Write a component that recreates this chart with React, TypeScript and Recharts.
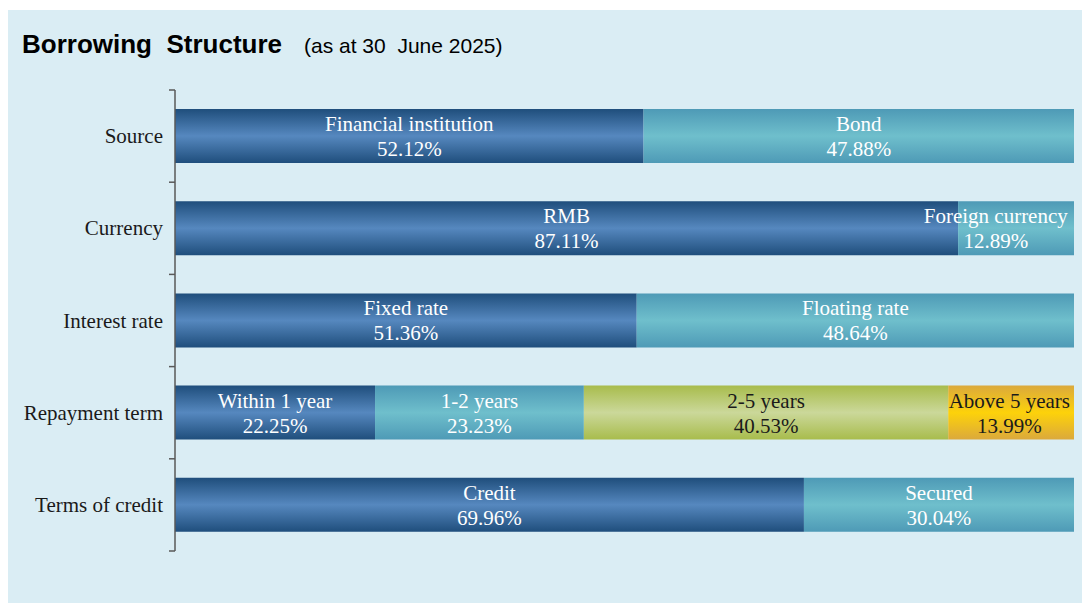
import React from "react";
import { Bar, BarChart, LabelList, XAxis, YAxis } from "recharts";

const categories = ["Source", "Currency", "Interest rate", "Repayment term", "Terms of credit"];
const segmentNames = [
  ["Financial institution", "Bond"],
  ["RMB", "Foreign currency"],
  ["Fixed rate", "Floating rate"],
  ["Within 1 year", "1-2 years", "2-5 years", "Above 5 years"],
  ["Credit", "Secured"],
];
const segmentValues = [
  [52.12, 47.88],
  [87.11, 12.89],
  [51.36, 48.64],
  [22.25, 23.23, 40.53, 13.99],
  [69.96, 30.04],
];

const SEG_KEYS = ["s1", "s2", "s3", "s4"];
// gradient stops: edge, middle
const SEG_FILLS = [
  { edge: "#1f4e7c", mid: "#5688bf" },
  { edge: "#4e9ab6", mid: "#6fbfcc" },
  { edge: "#a8bc4c", mid: "#cbd89a" },
  { edge: "#dba93c", mid: "#fdd20a" },
];
const LABEL_COLORS = ["#ffffff", "#ffffff", "#1a1a1a", "#1a1a1a"];

const W = 1082;
const H = 593;
const MARGIN = { top: 80, right: 16, bottom: 52, left: 0 };
const Y_W = 167;
const AXIS_X = MARGIN.left + Y_W;
const PLOT_RIGHT = W - MARGIN.right;
const BAND = (H - MARGIN.top - MARGIN.bottom) / categories.length;
const SERIF = '"Liberation Serif", "Times New Roman", serif';
const SANS = '"Liberation Sans", Arial, sans-serif';
const FS = 21;

const data = categories.map((c, i) => {
  const row: Record<string, string | number> = { name: c };
  segmentValues[i].forEach((v, j) => {
    row[SEG_KEYS[j]] = v;
  });
  return row;
});

function CategoryTick(props: any) {
  const { y, payload, index } = props;
  const top = y - BAND / 2;
  return (
    <g>
      <line x1={AXIS_X - 6} x2={AXIS_X} y1={top} y2={top} stroke="#595959" strokeWidth={1.5} />
      {index === categories.length - 1 && (
        <line x1={AXIS_X - 6} x2={AXIS_X} y1={y + BAND / 2} y2={y + BAND / 2} stroke="#595959" strokeWidth={1.5} />
      )}
      <text x={AXIS_X - 12} y={y} dy={7} textAnchor="end" fontFamily={SERIF} fontSize={FS} fill="#1a1a1a">
        {payload.value}
      </text>
    </g>
  );
}

function makeLabel(seg: number) {
  return (props: any) => {
    const { x, y, width, height, value } = props;
    // row from the bar's position in the band scale
    const row = Math.floor((y + height / 2 - MARGIN.top) / BAND);
    if (value == null || !segmentNames[row] || segmentNames[row][seg] == null) return null;
    const name = segmentNames[row][seg];
    const pct = `${Number(value).toFixed(2)}%`;
    // rough text width, keeps labels inside the plot on the right
    const textW = Math.max(name.length, pct.length) * FS * 0.43;
    let cx = x + width / 2;
    if (cx + textW / 2 > PLOT_RIGHT - 6) cx = PLOT_RIGHT - 6 - textW / 2;
    const cy = y + height / 2;
    return (
      <text textAnchor="middle" fontFamily={SERIF} fontSize={FS} fill={LABEL_COLORS[seg]}>
        <tspan x={cx} y={cy - 5}>{name}</tspan>
        <tspan x={cx} y={cy + 20}>{pct}</tspan>
      </text>
    );
  };
}

export default function App() {
  return (
    <div style={{ position: "relative", width: W, height: H, marginTop: 2, background: "#daedf4" }}>
      <svg width={W} height={70} style={{ position: "absolute", left: 0, top: 0 }}>
        <text x={14} y={43} fontFamily={SANS} fill="#000" style={{ whiteSpace: "pre" }}>
          <tspan fontSize={26} fontWeight="bold">{"Borrowing  Structure"}</tspan>
          <tspan fontSize={21} dx={22}>{"(as at 30  June 2025)"}</tspan>
        </text>
      </svg>
      <div style={{ position: "absolute", left: 0, top: 0 }}>
        <BarChart width={W} height={H} data={data} layout="vertical" margin={MARGIN} barSize={54}>
          <defs>
            {SEG_FILLS.map((f, i) => (
              <linearGradient key={i} id={`grad${i}`} x1="0" y1="0" x2="0" y2="1">
                <stop offset="0%" stopColor={f.edge} />
                <stop offset="50%" stopColor={f.mid} />
                <stop offset="100%" stopColor={f.edge} />
              </linearGradient>
            ))}
          </defs>
          <XAxis type="number" domain={[0, 100]} hide />
          <YAxis
            type="category"
            dataKey="name"
            width={Y_W}
            axisLine={{ stroke: "#595959", strokeWidth: 1.5 }}
            tickLine={false}
            tick={(p: any) => <CategoryTick {...p} />}
            interval={0}
          />
          {SEG_KEYS.map((k, i) => (
            <Bar key={k} dataKey={k} stackId="a" fill={`url(#grad${i})`} isAnimationActive={false}>
              <LabelList dataKey={k} content={makeLabel(i)} />
            </Bar>
          ))}
        </BarChart>
      </div>
    </div>
  );
}
